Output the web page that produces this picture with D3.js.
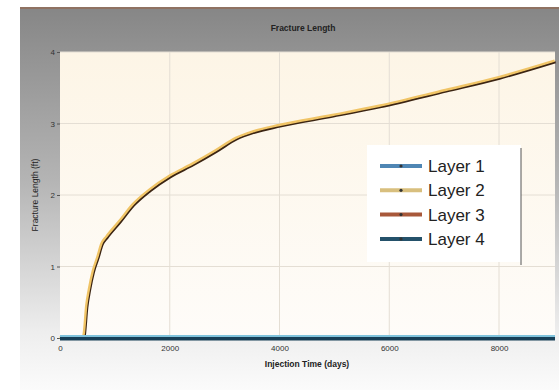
<!DOCTYPE html>
<html>
<head>
<meta charset="utf-8">
<script src="https://cdn.jsdelivr.net/npm/d3@7"></script>
<style>
  body { margin: 0; background: #fff; }
  svg { display: block; font-family: 'Liberation Sans', Arial, sans-serif; }
</style>
</head>
<body>
<svg id="chart" width="559" height="390"></svg>
<script>
// data
const seriesNames = ['Layer 1', 'Layer 2', 'Layer 3', 'Layer 4']
const seriesColors = ['#4f86b4', '#d8bf7e', '#a8583a', '#24516a']

const flatTime = [0, 9020]
const layer1 = [0, 0]
const layer4 = [0, 0]

const time = [0, 420, 440, 485, 533, 605, 690, 760, 850, 1090, 1330, 1640, 2000, 2420, 2850, 3210, 3520, 4000, 4970, 5820, 7030, 8000, 9020]
const layer2 = [0, 0, 0.05, 0.44, 0.67, 0.93, 1.13, 1.31, 1.41, 1.63, 1.86, 2.07, 2.26, 2.43, 2.62, 2.79, 2.88, 2.97, 3.11, 3.24, 3.46, 3.64, 3.87]
const layer3 = [0, 0, 0.05, 0.44, 0.67, 0.93, 1.13, 1.31, 1.41, 1.63, 1.86, 2.07, 2.26, 2.43, 2.62, 2.79, 2.88, 2.97, 3.11, 3.24, 3.46, 3.64, 3.87]

const xTicks = [0, 2000, 4000, 6000, 8000]
const yTicks = [0, 1, 2, 3, 4]

const svg = d3.select('#chart')
const margin = { top: 52, right: 4, bottom: 52, left: 60 }
const W = 559, H = 390
const width = W - margin.left - margin.right
const height = H - margin.top - margin.bottom

// фон
const defs = svg.append('defs')
const bg = defs.append('linearGradient').attr('id', 'bg').attr('x1', 0).attr('y1', 0).attr('x2', 0).attr('y2', 1)
bg.append('stop').attr('offset', '0%').attr('stop-color', '#868686')
bg.append('stop').attr('offset', '45%').attr('stop-color', '#b4b4b4')
bg.append('stop').attr('offset', '85%').attr('stop-color', '#eeeeee')
bg.append('stop').attr('offset', '100%').attr('stop-color', '#fbfbfb')
const pbg = defs.append('linearGradient').attr('id', 'pbg').attr('x1', 0).attr('y1', 0).attr('x2', 0).attr('y2', 1)
pbg.append('stop').attr('offset', '0%').attr('stop-color', '#fdf5e6')
pbg.append('stop').attr('offset', '100%').attr('stop-color', '#fefcf9')

svg.append('rect').attr('x', 20).attr('y', 7).attr('width', W - 20).attr('height', H - 7).attr('fill', 'url(#bg)')
svg.append('rect').attr('x', 20).attr('y', 7).attr('width', W - 20).attr('height', 2).attr('fill', '#8f7262')

const x = d3.scaleLinear().domain([0, 9020]).range([0, width])
const y = d3.scaleLinear().domain([0, 4]).range([height, 0])

const g = svg.append('g').attr('transform', `translate(${margin.left},${margin.top})`)

g.append('rect').attr('width', width).attr('height', height).attr('fill', 'url(#pbg)')

// сетка
g.append('g')
  .selectAll('line')
  .data(xTicks.slice(1))
  .enter()
  .append('line')
  .attr('x1', d => x(d)).attr('x2', d => x(d))
  .attr('y1', 0).attr('y2', height)
  .attr('stroke', '#e4ded4')
g.append('g')
  .selectAll('line')
  .data(yTicks.slice(1))
  .enter()
  .append('line')
  .attr('y1', d => y(d)).attr('y2', d => y(d))
  .attr('x1', 0).attr('x2', width)
  .attr('stroke', '#e4ded4')

// оси
const xAxis = g.append('g')
  .attr('transform', `translate(0,${height})`)
  .call(d3.axisBottom(x).tickValues(xTicks).tickFormat(d3.format('d')).tickSize(0).tickPadding(7))
const yAxis = g.append('g')
  .call(d3.axisLeft(y).tickValues(yTicks).tickFormat(d3.format('d')).tickSize(3).tickPadding(2))
xAxis.select('.domain').remove()
yAxis.select('.domain').remove()
g.selectAll('.tick text')
  .attr('font-family', "'Liberation Sans', Arial, sans-serif")
  .attr('font-size', '8px')
  .attr('fill', '#333')
yAxis.selectAll('.tick line').attr('stroke', '#555')

// линии
const pts = (xs, ys) => xs.map((t, i) => [t, ys[i]])
const line = d3.line().x(d => x(d[0])).y(d => y(d[1])).curve(d3.curveMonotoneX)

const plot = g.append('g')
plot.append('path').datum(pts(time, layer3))
  .attr('d', line).attr('fill', 'none').attr('stroke', '#3b2412').attr('stroke-width', 2.3)
  .attr('transform', 'translate(0.6,0.8)')
plot.append('path').datum(pts(time, layer2))
  .attr('d', line).attr('fill', 'none').attr('stroke', '#f0c466').attr('stroke-width', 2.4)
  .attr('transform', 'translate(-0.4,-0.6)')
plot.append('path').datum(pts(flatTime, layer1))
  .attr('d', line).attr('fill', 'none').attr('stroke', '#7fc3dc').attr('stroke-width', 4)
  .attr('transform', 'translate(0,-1)')
plot.append('path').datum(pts(flatTime, layer4))
  .attr('d', line).attr('fill', 'none').attr('stroke', '#173f57').attr('stroke-width', 3.5)
  .attr('transform', 'translate(0,0.8)')

// заголовки
svg.append('text')
  .text('Fracture Length')
  .attr('x', 303).attr('y', 31)
  .attr('text-anchor', 'middle')
  .attr('font-size', '8.5px').attr('font-weight', 'bold').attr('fill', '#222')
svg.append('text')
  .text('Injection Time (days)')
  .attr('x', 307).attr('y', 367)
  .attr('text-anchor', 'middle')
  .attr('font-size', '8.5px').attr('font-weight', 'bold').attr('fill', '#222')
svg.append('text')
  .text('Fracture Length (ft)')
  .attr('transform', 'translate(38,195) rotate(-90)')
  .attr('text-anchor', 'middle')
  .attr('font-size', '8.5px').attr('fill', '#222')

// легенда
const legend = svg.append('g').attr('transform', 'translate(367,145)')
legend.append('rect').attr('width', 154).attr('height', 117).attr('fill', '#fff')
legend.append('line').attr('x1', 154).attr('x2', 154).attr('y1', 3).attr('y2', 120)
  .attr('stroke', '#555').attr('stroke-width', 1)

const item = legend.selectAll('.item')
  .data(seriesNames)
  .enter()
  .append('g')
  .attr('class', 'item')
  .attr('transform', (d, i) => `translate(0,${21 + i * 24.3})`)
item.append('line')
  .attr('x1', 13).attr('x2', 55).attr('y1', 0).attr('y2', 0)
  .attr('stroke', (d, i) => seriesColors[i]).attr('stroke-width', 4)
item.append('circle')
  .attr('cx', 34).attr('cy', 0).attr('r', 1.6)
  .attr('fill', '#333')
item.append('text')
  .text(d => d)
  .attr('x', 61).attr('y', 6)
  .attr('font-size', '17px').attr('fill', '#222')
</script>
</body>
</html>
